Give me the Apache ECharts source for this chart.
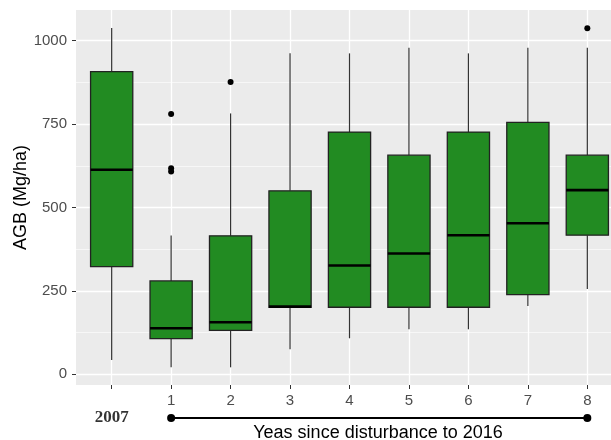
<!DOCTYPE html>
<html>
<head>
<meta charset="utf-8">
<script src="https://cdn.jsdelivr.net/npm/echarts@6/dist/echarts.min.js"></script>
<style>
  html, body { margin: 0; padding: 0; background: #fff; }
  #chart { width: 611px; height: 440px; }
</style>
</head>
<body>
<div id="chart"></div>
<script>
// categories on the x axis
const cats = ["2007", "1", "2", "3", "4", "5", "6", "7", "8"];
// box statistics (Mg/ha) per category
const whiskerLow = [43, 21, 21, 75, 108, 135, 135, 205, 256];
const q1 = [323, 107, 132, 201, 201, 201, 201, 239, 417];
const median = [613, 138, 156, 203, 326, 362, 417, 453, 552];
const q3 = [907, 280, 415, 550, 726, 657, 726, 755, 657];
const whiskerHigh = [1038, 416, 782, 962, 962, 979, 962, 979, 979];
// outliers: [category index, value]
const outliers = [[1, 780], [1, 618], [1, 608], [2, 876], [8, 1037]];
// tick values
const yTicks = [0, 250, 500, 750, 1000];
const yMinor = [125, 375, 625, 875];
// years since disturbance run from category 1 to 8
const spanStart = 1;
const spanEnd = 8;

const catIdx = cats.map((c, i) => i);
const boxData = cats.map((c, i) => [i, whiskerLow[i], q1[i], median[i], q3[i], whiskerHigh[i]]);

const myChart = echarts.init(document.getElementById("chart"));
const txt = "#4D4D4D";
const font = "Liberation Sans";

const option = {
  animation: false,
  title: {
    text: "Yeas since disturbance to 2016",
    left: 373,
    top: 419,
    textAlign: "center",
    textStyle: { fontFamily: font, fontSize: 18, fontWeight: "normal", color: "#000" },
  },
  grid: [
    {
      left: 76, top: 10, width: 547, height: 375,
      outerBoundsMode: "none", containLabel: false,
      show: true, backgroundColor: "#EBEBEB", borderWidth: 0,
    },
    { left: 76, top: 410, width: 547, height: 16, outerBoundsMode: "none", containLabel: false },
  ],
  xAxis: [
    {
      type: "value", gridIndex: 0, min: -0.6, max: 8.6,
      axisLine: { show: false, onZero: false },
      axisTick: { show: true, customValues: catIdx, length: 4, lineStyle: { color: "#333" } },
      axisLabel: {
        customValues: catIdx, margin: 8,
        formatter: (v) => (v === 0 ? "" : cats[v]),
        fontFamily: font, fontSize: 15, color: txt,
      },
      splitLine: { show: true, lineStyle: { color: "#fff", width: 1.3 } },
    },
    { type: "value", gridIndex: 1, min: -0.6, max: 8.6, show: false },
  ],
  yAxis: [
    {
      type: "value", gridIndex: 0, min: -32, max: 1092,
      name: "AGB (Mg/ha)", nameLocation: "middle", nameGap: 46, nameRotate: 90,
      nameMoveOverlap: false,
      nameTextStyle: { fontFamily: font, fontSize: 18, color: "#000" },
      axisLine: { show: false, onZero: false },
      axisTick: { show: true, customValues: yTicks, length: 4, lineStyle: { color: "#333" } },
      axisLabel: {
        customValues: yTicks, margin: 9, formatter: (v) => String(v),
        fontFamily: font, fontSize: 15, color: txt,
      },
      splitLine: { show: true, lineStyle: { color: "#fff", width: 1.3 } },
    },
    {
      type: "value", gridIndex: 0, min: -32, max: 1092,
      axisLine: { show: false, onZero: false },
      axisTick: { show: false, customValues: yMinor },
      axisLabel: { show: false, customValues: yMinor },
      splitLine: { show: true, lineStyle: { color: "#fff", width: 0.6 } },
    },
    { type: "value", gridIndex: 1, min: -1, max: 1, show: false },
  ],
  series: [
    {
      type: "custom",
      xAxisIndex: 0, yAxisIndex: 0,
      z: 3,
      data: boxData,
      encode: { x: 0, y: [1, 2, 3, 4, 5] },
      renderItem: function (params, api) {
        const x = api.value(0);
        const hw = 0.355;
        const pMin = api.coord([x, api.value(1)]);
        const pQ1 = api.coord([x, api.value(2)]);
        const pMed = api.coord([x, api.value(3)]);
        const pQ3 = api.coord([x, api.value(4)]);
        const pMax = api.coord([x, api.value(5)]);
        const left = api.coord([x - hw, 0])[0];
        const right = api.coord([x + hw, 0])[0];
        const ws = { stroke: "#333", lineWidth: 1.2 };
        return {
          type: "group",
          children: [
            { type: "line", shape: { x1: pMax[0], y1: pMax[1], x2: pQ3[0], y2: pQ3[1] }, style: ws },
            { type: "line", shape: { x1: pQ1[0], y1: pQ1[1], x2: pMin[0], y2: pMin[1] }, style: ws },
            {
              type: "rect",
              shape: { x: left, y: pQ3[1], width: right - left, height: pQ1[1] - pQ3[1] },
              style: { fill: "#228B22", stroke: "#222", lineWidth: 1.3 },
            },
            {
              type: "line",
              shape: { x1: left, y1: pMed[1], x2: right, y2: pMed[1] },
              style: { stroke: "#000", lineWidth: 2.6 },
            },
          ],
        };
      },
    },
    {
      type: "scatter",
      xAxisIndex: 0, yAxisIndex: 0,
      z: 4,
      symbolSize: 6,
      itemStyle: { color: "#000", opacity: 1 },
      data: outliers,
    },
    {
      // bar under the axis: 1 .. 8
      type: "line",
      xAxisIndex: 1, yAxisIndex: 2,
      symbol: "circle",
      symbolSize: 8,
      itemStyle: { color: "#000" },
      lineStyle: { color: "#000", width: 2 },
      data: [[spanStart, 0], [spanEnd, 0]],
    },
    {
      // bold 2007 label at the baseline position
      type: "scatter",
      xAxisIndex: 1, yAxisIndex: 2,
      symbolSize: 0,
      label: {
        show: true, position: "inside",
        formatter: () => cats[0],
        fontFamily: "Liberation Serif", fontWeight: "bold", fontSize: 17, color: "#000",
      },
      data: [[0, 0]],
    },
  ],
};

myChart.setOption(option);
window.onresize = function () {
  myChart.resize();
};
</script>
</body>
</html>
